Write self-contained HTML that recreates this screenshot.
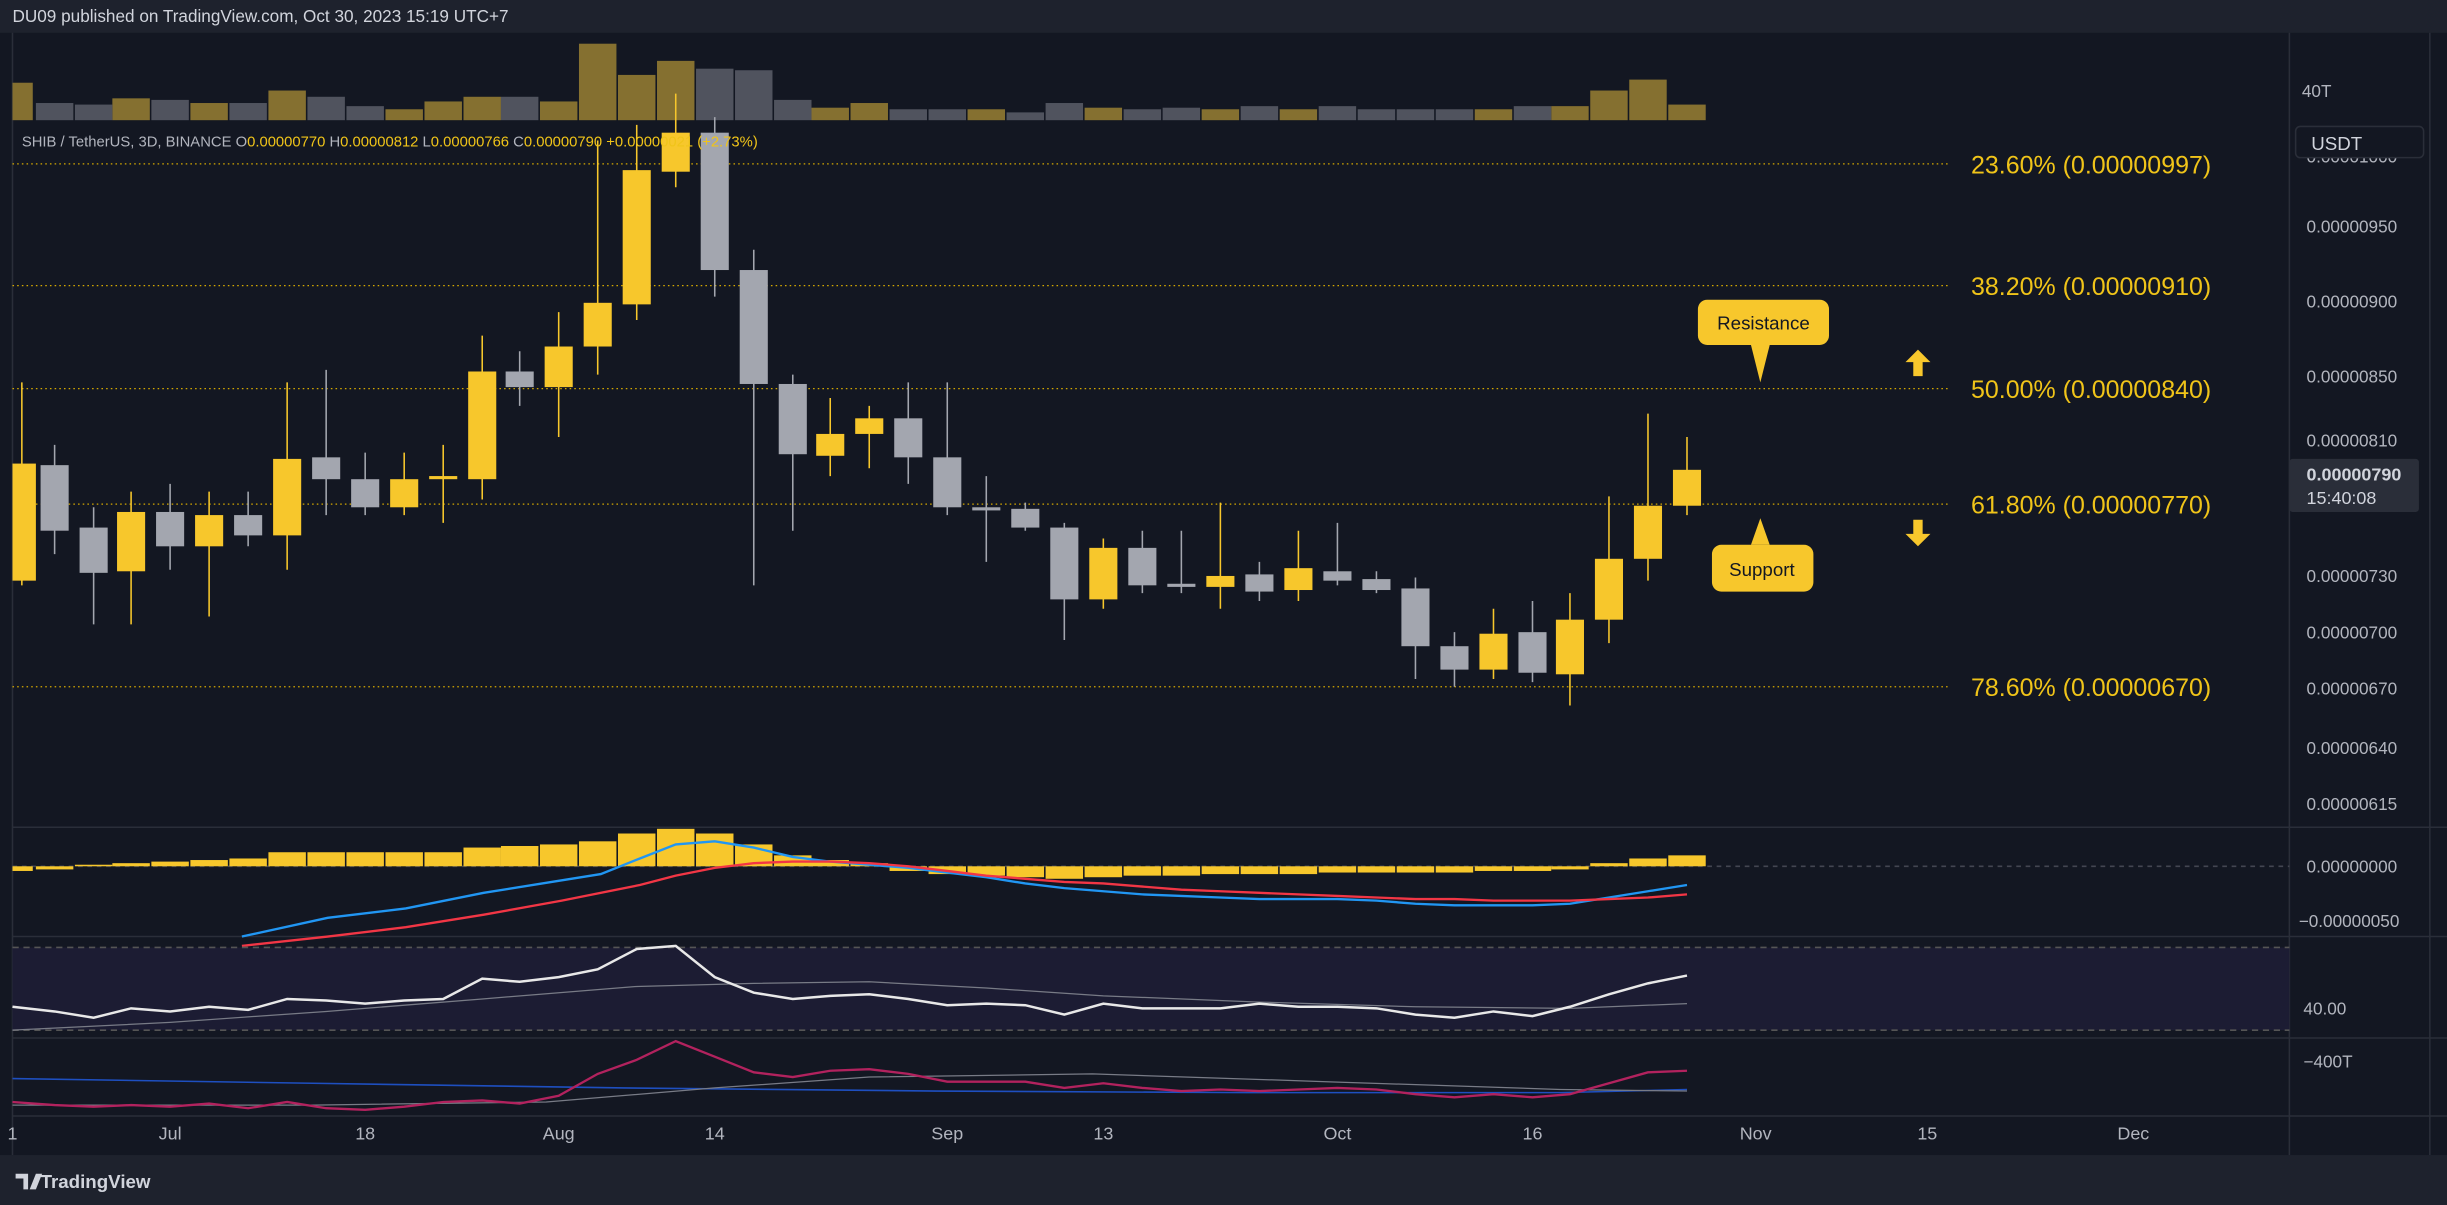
<!DOCTYPE html>
<html><head><meta charset="utf-8"><style>
html,body{margin:0;padding:0;background:#131722;}
svg{display:block;}
text{font-family:"Liberation Sans",sans-serif;}
</style></head><body>
<svg width="2447" height="1205" viewBox="0 0 1568 772" preserveAspectRatio="none" xmlns="http://www.w3.org/2000/svg">
<rect width="1568" height="772" fill="#131722"/>
<rect width="1568" height="21" fill="#1e222d"/>
<text x="8" y="14" font-size="11" fill="#d1d4dc">DU09 published on TradingView.com, Oct 30, 2023 15:19 UTC+7</text>
<rect x="0" y="740" width="1568" height="32" fill="#1e222d"/>
<text x="26" y="761" font-size="12" font-weight="bold" fill="#d1d4dc">TradingView</text>
<path d="M10 752h8v10h-3v-7h-5z M19 762l4-10h4l-4 10z" fill="#d1d4dc"/>
<line x1="1467" y1="21" x2="1467" y2="740" stroke="#2a2e39"/>
<line x1="1557" y1="21" x2="1557" y2="740" stroke="#2a2e39"/>
<line x1="8" y1="21" x2="8" y2="740" stroke="#2a2e39"/>
<g stroke="#2a2e39"><line x1="8" y1="530" x2="1568" y2="530"/><line x1="8" y1="600" x2="1568" y2="600"/><line x1="8" y1="665" x2="1568" y2="665"/><line x1="8" y1="715" x2="1568" y2="715"/></g>
<!-- volume -->
<g fill="#857030">
<rect x="8" y="53" width="13" height="24"/><rect x="72" y="63" width="24" height="14"/><rect x="122" y="66" width="24" height="11"/><rect x="172" y="58" width="24" height="19"/><rect x="247" y="70" width="24" height="7"/><rect x="272" y="65" width="24" height="12"/><rect x="297" y="62" width="24" height="15"/><rect x="346" y="65" width="24" height="12"/><rect x="371" y="28" width="24" height="49"/><rect x="396" y="48" width="24" height="29"/><rect x="421" y="39" width="24" height="38"/><rect x="520" y="69" width="24" height="8"/><rect x="545" y="66" width="24" height="11"/><rect x="620" y="70" width="24" height="7"/><rect x="695" y="69" width="24" height="8"/><rect x="770" y="70" width="24" height="7"/><rect x="820" y="70" width="24" height="7"/><rect x="945" y="70" width="24" height="7"/><rect x="994" y="68" width="24" height="9"/><rect x="1019" y="58" width="24" height="19"/><rect x="1044" y="51" width="24" height="26"/><rect x="1069" y="67" width="24" height="10"/>
</g>
<g fill="#50535e">
<rect x="23" y="66" width="24" height="11"/><rect x="48" y="67" width="24" height="10"/><rect x="97" y="64" width="24" height="13"/><rect x="147" y="66" width="24" height="11"/><rect x="197" y="62" width="24" height="15"/><rect x="222" y="68" width="24" height="9"/><rect x="321" y="62" width="24" height="15"/><rect x="446" y="44" width="24" height="33"/><rect x="471" y="45" width="24" height="32"/><rect x="496" y="64" width="24" height="13"/><rect x="570" y="70" width="24" height="7"/><rect x="595" y="70" width="24" height="7"/><rect x="645" y="72" width="24" height="5"/><rect x="670" y="66" width="24" height="11"/><rect x="720" y="70" width="24" height="7"/><rect x="745" y="69" width="24" height="8"/><rect x="795" y="68" width="24" height="9"/><rect x="845" y="68" width="24" height="9"/><rect x="870" y="70" width="24" height="7"/><rect x="895" y="70" width="24" height="7"/><rect x="920" y="70" width="24" height="7"/><rect x="970" y="68" width="24" height="9"/>
</g>
<g stroke="#d4a800" stroke-width="0.8" stroke-dasharray="1,2">
<line x1="8" y1="105" x2="1250" y2="105"/><line x1="8" y1="183" x2="1250" y2="183"/><line x1="8" y1="249" x2="1250" y2="249"/><line x1="8" y1="323" x2="1250" y2="323"/><line x1="8" y1="440" x2="1250" y2="440"/></g>
<g font-size="16" fill="#f0c419">
<text x="1263" y="111">23.60% (0.00000997)</text>
<text x="1263" y="189">38.20% (0.00000910)</text>
<text x="1263" y="255">50.00% (0.00000840)</text>
<text x="1263" y="329">61.80% (0.00000770)</text>
<text x="1263" y="446">78.60% (0.00000670)</text></g>
<!-- candles -->
<path stroke="#f7c72c" stroke-width="1" fill="none" d="M14 245V375M84 315V400M134 315V395M184 245V365M259 290V330M284 285V335M309 215V320M358 200V280M383 90V240M408 80V205M433 60V120M532 255V305M557 260V300M707 345V390M782 322V390M832 340V385M957 390V435M1006 380V452M1031 318V412M1056 265V372M1081 280V330"/>
<path stroke="#a3a6af" stroke-width="1" fill="none" d="M35 285V355M60 325V400M109 310V365M159 315V350M209 237V330M234 290V330M333 225V260M458 75V190M483 160V375M508 240V340M582 245V310M607 245V330M632 305V360M657 322V340M682 335V410M732 340V380M757 340V380M807 360V385M857 335V375M882 366V380M907 370V435M932 405V440M982 385V437"/>
<g fill="#f7c72c">
<rect x="8" y="297" width="15" height="75"/><rect x="75" y="328" width="18" height="38"/><rect x="125" y="330" width="18" height="20"/><rect x="175" y="294" width="18" height="49"/><rect x="250" y="307" width="18" height="18"/><rect x="275" y="305" width="18" height="2"/><rect x="300" y="238" width="18" height="69"/><rect x="349" y="222" width="18" height="26"/><rect x="374" y="194" width="18" height="28"/><rect x="399" y="109" width="18" height="86"/><rect x="424" y="85" width="18" height="25"/><rect x="523" y="278" width="18" height="14"/><rect x="548" y="268" width="18" height="10"/><rect x="698" y="351" width="18" height="33"/><rect x="773" y="369" width="18" height="7"/><rect x="823" y="364" width="18" height="14"/><rect x="948" y="406" width="18" height="23"/><rect x="997" y="397" width="18" height="35"/><rect x="1022" y="358" width="18" height="39"/><rect x="1047" y="324" width="18" height="34"/><rect x="1072" y="301" width="18" height="23"/>
</g>
<g fill="#a3a6af">
<rect x="26" y="298" width="18" height="42"/><rect x="51" y="338" width="18" height="29"/><rect x="100" y="328" width="18" height="22"/><rect x="150" y="330" width="18" height="13"/><rect x="200" y="293" width="18" height="14"/><rect x="225" y="307" width="18" height="18"/><rect x="324" y="238" width="18" height="10"/><rect x="449" y="85" width="18" height="88"/><rect x="474" y="173" width="18" height="73"/><rect x="499" y="246" width="18" height="45"/><rect x="573" y="268" width="18" height="25"/><rect x="598" y="293" width="18" height="32"/><rect x="623" y="325" width="18" height="2"/><rect x="648" y="326" width="18" height="12"/><rect x="673" y="338" width="18" height="46"/><rect x="723" y="351" width="18" height="24"/><rect x="748" y="374" width="18" height="2"/><rect x="798" y="368" width="18" height="11"/><rect x="848" y="366" width="18" height="6"/><rect x="873" y="371" width="18" height="7"/><rect x="898" y="377" width="18" height="37"/><rect x="923" y="414" width="18" height="15"/><rect x="973" y="405" width="18" height="26"/>
</g>
<text x="14" y="94" font-size="9.5" fill="#b2b5be">SHIB / TetherUS, 3D, BINANCE  O<tspan fill="#f0c419">0.00000770</tspan>  H<tspan fill="#f0c419">0.00000812</tspan>  L<tspan fill="#f0c419">0.00000766</tspan>  C<tspan fill="#f0c419">0.00000790  +0.00000021 (+2.73%)</tspan></text>
<rect x="1088" y="192" width="84" height="29" rx="6" fill="#f7c72c"/><path d="M1122 221h12l-6 24z" fill="#f7c72c"/>
<text x="1130" y="211" font-size="12" fill="#131722" text-anchor="middle">Resistance</text>
<rect x="1097" y="349" width="65" height="30" rx="6" fill="#f7c72c"/><path d="M1122 349h12l-6 -17z" fill="#f7c72c"/>
<text x="1129" y="369" font-size="12" fill="#131722" text-anchor="middle">Support</text>
<path d="M1229 224l8 8h-5v9h-6v-9h-5z" fill="#f7c72c"/>
<path d="M1229 350l8 -8h-5v-9h-6v9h-5z" fill="#f7c72c"/>
<g font-size="11" fill="#b2b5be">
<text x="1475" y="62">40T</text>
<text x="1478" y="104">0.00001000</text>
<text x="1478" y="149">0.00000950</text>
<text x="1478" y="197">0.00000900</text>
<text x="1478" y="245">0.00000850</text>
<text x="1478" y="286">0.00000810</text>
<text x="1478" y="373">0.00000730</text>
<text x="1478" y="409">0.00000700</text>
<text x="1478" y="445">0.00000670</text>
<text x="1478" y="483">0.00000640</text>
<text x="1478" y="519">0.00000615</text>
<text x="1478" y="559">0.00000000</text>
<text x="1473" y="594">−0.00000050</text>
<text x="1476" y="650">40.00</text>
<text x="1476" y="684">−400T</text></g>
<rect x="1471" y="81" width="82" height="20" rx="3" fill="#131722" stroke="#2a2e39"/>
<text x="1481" y="96" font-size="12" fill="#d1d4dc">USDT</text>
<rect x="1467" y="294" width="83" height="34" rx="2" fill="#2a2e39"/>
<text x="1478" y="308" font-size="11.5" font-weight="bold" fill="#d1d4dc">0.00000790</text>
<text x="1478" y="323" font-size="11.5" fill="#d1d4dc">15:40:08</text>
<g font-size="11.5" fill="#b2b5be" text-anchor="middle">
<text x="8" y="730">1</text><text x="109" y="730">Jul</text><text x="234" y="730">18</text><text x="358" y="730">Aug</text><text x="458" y="730">14</text><text x="607" y="730">Sep</text><text x="707" y="730">13</text><text x="857" y="730">Oct</text><text x="982" y="730">16</text><text x="1125" y="730">Nov</text><text x="1235" y="730">15</text><text x="1367" y="730">Dec</text></g>
<!-- MACD -->
<line x1="8" y1="555" x2="1467" y2="555" stroke="#434651" stroke-dasharray="3,3"/>
<g fill="#f7c72c">
<rect x="8" y="555" width="13" height="3"/><rect x="23" y="555" width="24" height="2"/><rect x="48" y="554" width="24" height="1"/><rect x="72" y="553" width="24" height="2"/><rect x="97" y="552" width="24" height="3"/><rect x="122" y="551" width="24" height="4"/><rect x="147" y="550" width="24" height="5"/><rect x="172" y="546" width="24" height="9"/><rect x="197" y="546" width="24" height="9"/><rect x="222" y="546" width="24" height="9"/><rect x="247" y="546" width="24" height="9"/><rect x="272" y="546" width="24" height="9"/><rect x="297" y="543" width="24" height="12"/><rect x="321" y="542" width="24" height="13"/><rect x="346" y="541" width="24" height="14"/><rect x="371" y="539" width="24" height="16"/><rect x="396" y="534" width="24" height="21"/><rect x="421" y="531" width="24" height="24"/><rect x="446" y="534" width="24" height="21"/><rect x="471" y="541" width="24" height="14"/><rect x="496" y="548" width="24" height="7"/><rect x="520" y="551" width="24" height="4"/><rect x="545" y="553" width="24" height="2"/>
<rect x="570" y="555" width="24" height="3"/><rect x="595" y="555" width="24" height="5"/><rect x="620" y="555" width="24" height="6"/><rect x="645" y="555" width="24" height="7"/><rect x="670" y="555" width="24" height="8"/><rect x="695" y="555" width="24" height="7"/><rect x="720" y="555" width="24" height="6"/><rect x="745" y="555" width="24" height="6"/><rect x="770" y="555" width="24" height="5"/><rect x="795" y="555" width="24" height="5"/><rect x="820" y="555" width="24" height="5"/><rect x="845" y="555" width="24" height="4"/><rect x="870" y="555" width="24" height="4"/><rect x="895" y="555" width="24" height="4"/><rect x="920" y="555" width="24" height="4"/><rect x="945" y="555" width="24" height="3"/><rect x="970" y="555" width="24" height="3"/><rect x="994" y="555" width="24" height="2"/><rect x="1019" y="553" width="24" height="2"/><rect x="1044" y="550" width="24" height="5"/><rect x="1069" y="548" width="24" height="7"/>
</g>
<polyline fill="none" stroke="#2196f3" stroke-width="1.5" points="155,600 210,588 260,582 310,572 360,564 385,560 410,550 433,541 458,539 483,543 508,549 532,552 557,554 582,556 607,559 632,562 657,566 682,569 707,571 732,573 757,574 782,575 807,576 832,576 857,576 882,577 907,579 932,580 957,580 982,580 1006,579 1031,575 1056,571 1081,567"/>
<polyline fill="none" stroke="#f23645" stroke-width="1.5" points="155,606 210,600 260,594 310,586 360,577 410,567 433,561 458,556 483,553 508,552 532,552 557,553 582,555 607,558 632,561 657,563 682,565 707,566 732,568 757,570 782,571 807,572 832,573 857,574 882,575 907,576 932,576 957,577 982,577 1006,577 1031,576 1056,575 1081,573"/>
<!-- RSI -->
<rect x="8" y="607" width="1459" height="53" fill="#1c1c33"/>
<line x1="8" y1="607" x2="1467" y2="607" stroke="#555" stroke-dasharray="4,3"/>
<line x1="8" y1="660" x2="1467" y2="660" stroke="#555" stroke-dasharray="4,3"/>
<polyline fill="none" stroke="#787b86" stroke-width="0.8" points="8,660 109,655 209,648 309,640 408,632 483,630 557,629 632,633 707,638 807,642 907,645 1006,646 1081,643"/>
<polyline fill="none" stroke="#e8e8e8" stroke-width="1.6" points="8,645 35,648 60,652 84,646 109,648 134,645 159,647 184,640 209,641 234,643 259,641 284,640 309,627 333,629 358,626 383,621 408,608 433,606 458,626 483,636 508,640 532,638 557,637 582,640 607,644 632,643 657,644 682,650 707,643 732,646 757,646 782,646 807,643 832,645 857,645 882,646 907,650 932,652 957,648 982,651 1006,645 1031,637 1056,630 1081,625"/>
<polyline fill="none" stroke="#1e4fc0" stroke-width="1" points="8,691 200,694 400,697 600,699 800,700 1000,700 1081,698"/>
<polyline fill="none" stroke="#787b86" stroke-width="0.8" points="8,708 200,708 350,706 458,697 557,690 700,688 850,693 1000,698 1081,699"/>
<polyline fill="none" stroke="#b2225e" stroke-width="1.5" points="8,706 35,708 60,709 84,708 109,709 134,707 159,710 184,706 209,710 234,711 259,709 284,706 309,705 333,707 358,702 383,688 408,679 433,667 458,677 483,687 508,690 532,686 557,685 582,688 607,693 632,693 657,693 682,697 707,694 732,697 757,699 782,698 807,699 832,698 857,697 882,698 907,701 932,703 957,701 982,703 1006,701 1031,694 1056,687 1081,686"/>
</svg>
</body></html>
